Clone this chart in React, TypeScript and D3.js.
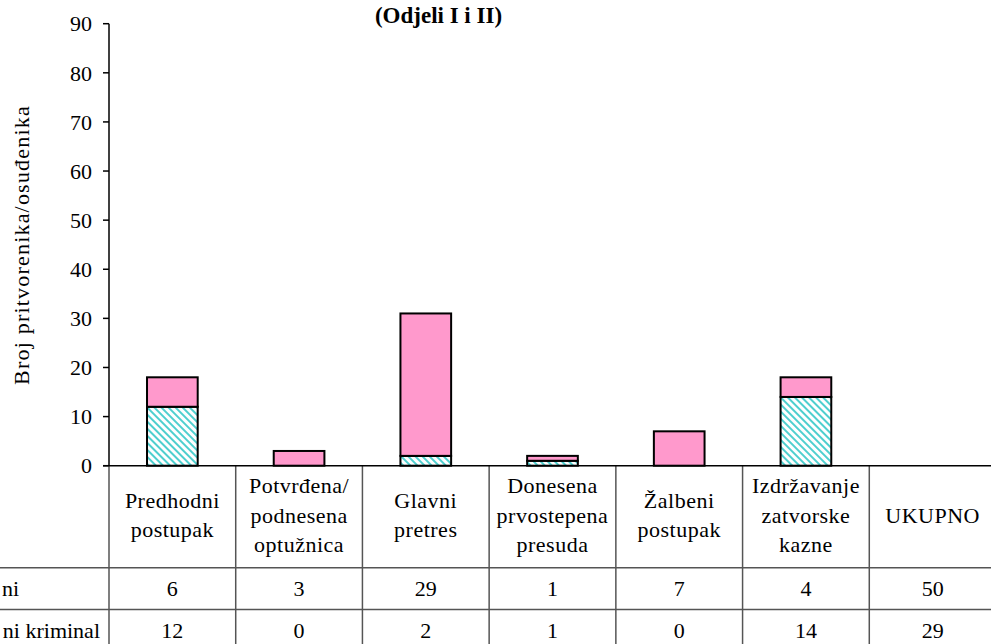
import React from "react";
import * as d3 from "d3";

const categories: string[][] = [
  ["Predhodni", "postupak"],
  ["Potvrđena/", "podnesena", "optužnica"],
  ["Glavni", "pretres"],
  ["Donesena", "prvostepena", "presuda"],
  ["Žalbeni", "postupak"],
  ["Izdržavanje", "zatvorske", "kazne"],
  ["UKUPNO"],
];
const seriesNames = ["ni", "ni kriminal"];
const topValues = [6, 3, 29, 1, 7, 4, 50]; // pink series ("...ni")
const bottomValues = [12, 0, 2, 1, 0, 14, 29]; // hatched series ("...ni kriminal")
const plottedCount = 6; // UKUPNO is a total column without a bar
const yTicks = [0, 10, 20, 30, 40, 50, 60, 70, 80, 90];
const title = "(Odjeli I i II)";
const yLabel = "Broj pritvorenika/osuđenika";

const W = 991;
const H = 644;
const FONT = "Liberation Serif";
const FS = 22;

export default function App() {
  const x = d3
    .scaleBand<number>()
    .domain(categories.map((_, i) => i))
    .range([109, 996])
    .padding(0);
  const y = d3.scaleLinear().domain([0, 90]).range([465.7, 23.7]);

  const rows = categories.map((_, i) => ({
    i,
    bottom: bottomValues[i],
    top: topValues[i],
  }));
  const stack = d3.stack<any>().keys(["bottom", "top"]);
  const stacked = stack(rows.slice(0, plottedCount));

  const bw = x.bandwidth();
  const barW = bw * 0.4;
  const headerTop = y(0);
  const headerBottom = 567.7;
  const rowH = 41.8;
  const rowTops = [headerBottom, headerBottom + rowH];
  const tableVals = [topValues, bottomValues];
  const labelEnds = [19, 100];
  const gridColor = "#555";
  const ts: React.CSSProperties = { fontFamily: FONT };

  return (
    <svg width={W} height={H} style={{ position: "absolute", left: 0, top: 0, background: "#fff" }}>
      <defs>
        <pattern
          id="hatch"
          patternUnits="userSpaceOnUse"
          width={5}
          height={5}
          patternTransform="rotate(-45)"
        >
          <rect width={5} height={5} fill="#fff" />
          <rect width={2} height={5} fill="#4ECFCF" />
        </pattern>
      </defs>
      <rect width={W} height={H} fill="#fff" />

      {/* title */}
      <text x={438.5} y={22.5} textAnchor="middle" fontWeight="bold" fontSize={23} style={ts}>
        {title}
      </text>

      {/* y label */}
      <text
        transform={`translate(29,${245}) rotate(-90)`}
        textAnchor="middle"
        fontSize={FS}
        letterSpacing={1.2}
        style={ts}
      >
        {yLabel}
      </text>

      {/* y ticks */}
      {yTicks.map((t) => (
        <g key={t}>
          <line x1={103} x2={109} y1={y(t)} y2={y(t)} stroke="#000" strokeWidth={1.5} />
          <text x={92} y={y(t)} dy="0.35em" textAnchor="end" fontSize={FS} style={ts}>
            {t}
          </text>
        </g>
      ))}

      {/* bars */}
      {stacked.map((layer, li) =>
        layer.map((d: any, j: number) => {
          const h = y(d[0]) - y(d[1]);
          if (h <= 0) return null;
          return (
            <rect
              key={`${li}-${j}`}
              x={(x(j) as number) + (bw - barW) / 2}
              y={y(d[1])}
              width={barW}
              height={h}
              fill={li === 0 ? "url(#hatch)" : "#FF99CC"}
              stroke="#000"
              strokeWidth={2}
            />
          );
        })
      )}

      {/* table grid */}
      {categories.map((_, i) => (
        <line
          key={`v${i}`}
          x1={x(i) as number}
          x2={x(i) as number}
          y1={headerTop}
          y2={H}
          stroke={gridColor}
          strokeWidth={1.5}
        />
      ))}
      {rowTops.map((ry, k) => (
        <line key={`h${k}`} x1={0} x2={W} y1={ry} y2={ry} stroke={gridColor} strokeWidth={1.5} />
      ))}

      {/* axes */}
      <line x1={109} x2={109} y1={y(90)} y2={y(0)} stroke="#000" strokeWidth={1.5} />
      <line x1={103} x2={W} y1={y(0)} y2={y(0)} stroke="#000" strokeWidth={1.5} />

      {/* header labels */}
      {categories.map((lines, i) => {
        const cx = (x(i) as number) + bw / 2;
        const cy = (headerTop + headerBottom) / 2;
        const lh = 29.5;
        const first = cy + 6 - ((lines.length - 1) * lh) / 2;
        return (
          <text key={`c${i}`} textAnchor="middle" fontSize={FS} letterSpacing={0.5} style={ts}>
            {lines.map((ln, k) => (
              <tspan key={k} x={cx} y={first + k * lh}>
                {ln}
              </tspan>
            ))}
          </text>
        );
      })}

      {/* table rows */}
      {tableVals.map((vals, r) => (
        <g key={`r${r}`}>
          <text x={labelEnds[r]} y={rowTops[r] + rowH / 2 + 7.5} textAnchor="end" fontSize={FS} style={ts}>
            {seriesNames[r]}
          </text>
          {vals.map((v, i) => (
            <text
              key={i}
              x={(x(i) as number) + bw / 2}
              y={rowTops[r] + rowH / 2 + 7.5}
              textAnchor="middle"
              fontSize={FS}
              style={ts}
            >
              {v}
            </text>
          ))}
        </g>
      ))}
    </svg>
  );
}
